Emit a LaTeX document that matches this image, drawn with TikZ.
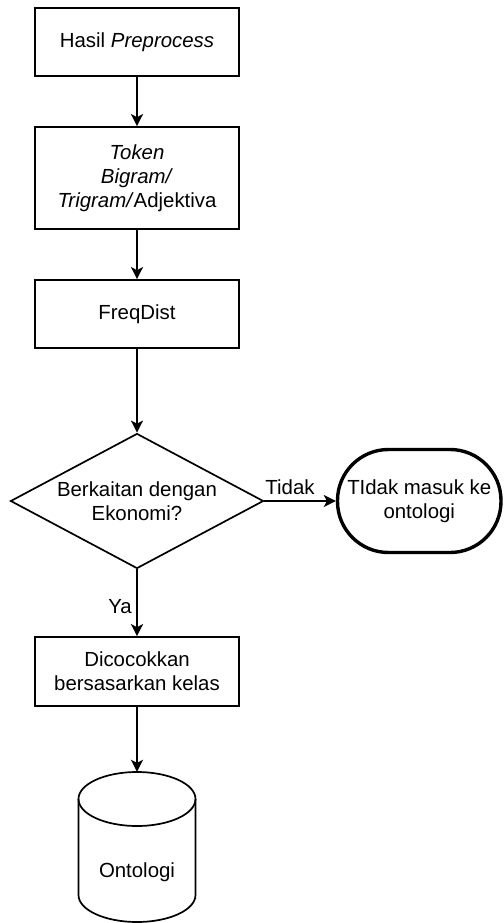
\documentclass[tikz,border=0pt]{standalone}
\usepackage{fontspec}
\setmainfont{Liberation Sans}
\usetikzlibrary{shapes.geometric,arrows.meta}

\tikzset{
  base/.style={font=\fontsize{20.4}{24}\selectfont, align=center, inner sep=0pt},
  procbox/.style={base, draw, line width=1.7pt, minimum width=204pt, minimum height=68pt},
  decision/.style={base, draw, line width=1.7pt, shape=diamond, aspect=1.87,
                   minimum width=253pt, minimum height=135pt},
  terminal/.style={base, draw, line width=3.4pt, minimum width=163.5pt, minimum height=103pt,
                   rounded corners=51pt},
  flowline/.style={line width=1.7pt},
  flowarrow/.style={flowline, -{Stealth[length=12pt, width=12pt, inset=3pt]}},
  edgelabel/.style={base}
}

\begin{document}
\begin{tikzpicture}[x=1pt, y=-1pt]
  \useasboundingbox (0,0) rectangle (503,923);

  % process steps
  \node[procbox] (hasil) at (137,42) {Hasil \textit{Preprocess}};
  \node[procbox, minimum height=102pt] (token) at (137,178)
    {\textit{Token}\\ \textit{Bigram/}\\ \textit{Trigram/}Adjektiva};
  \node[procbox] (freq) at (137,314) {FreqDist};

  % decision and its branches
  \node[decision] (ekon) at (137,501) {Berkaitan dengan\\ Ekonomi?};
  \node[terminal] (tidakmasuk) at (419.25,501) {TIdak masuk ke\\ ontologi};
  \node[procbox, minimum height=69pt] (cocok) at (137,671.5) {Dicocokkan\\ bersasarkan kelas};

  % database cylinder
  \node[minimum width=117pt, minimum height=150pt, inner sep=0pt] (onto) at (137,847) {};
  \draw[flowline] (137,799) ellipse [x radius=58.5pt, y radius=27pt];
  \draw[flowline] (78.5,799) -- (78.5,895)
    arc[start angle=180, end angle=360, x radius=58.5pt, y radius=27pt] -- (195.5,799);
  \node[base] (ontotext) at (137,872) {Ontologi};

  % connectors
  \draw[flowarrow] (hasil) -- (token);
  \draw[flowarrow] (token) -- (freq);
  \draw[flowarrow] (freq) -- (ekon);
  \draw[flowarrow] (ekon.east) -- (tidakmasuk.west);
  \draw[flowarrow] (ekon.south) -- (cocok.north);
  \draw[flowarrow] (cocok) -- (onto.north);

  % branch labels
  \node[edgelabel] (lbltidak) at (290,487) {Tidak};
  \node[edgelabel] (lblya) at (120,607) {Ya};
\end{tikzpicture}
\end{document}
